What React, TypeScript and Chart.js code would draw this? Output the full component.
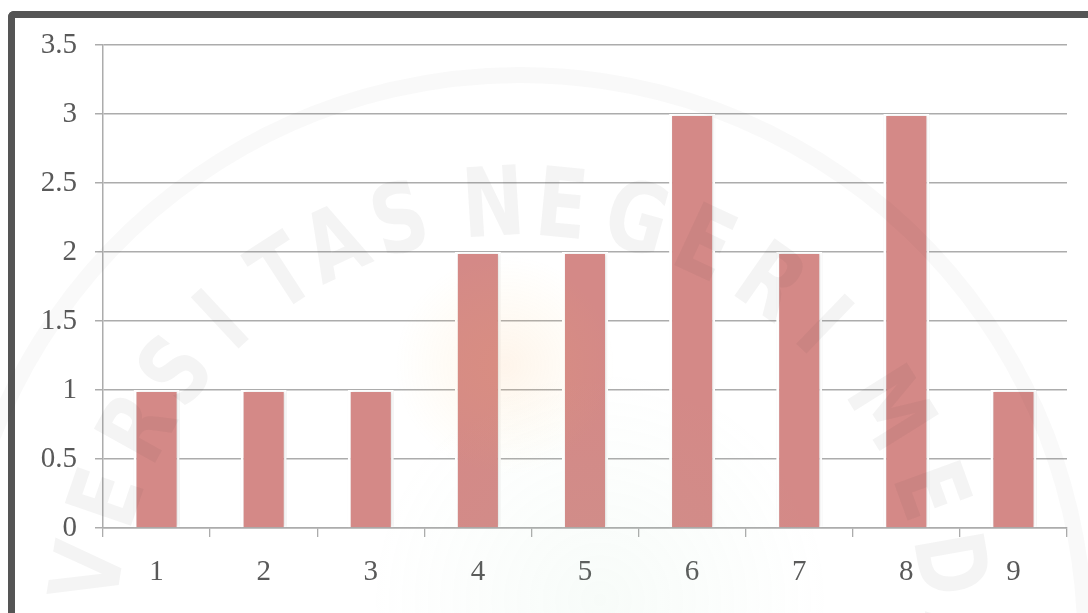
import React, { useEffect, useRef } from "react";
import { Chart, registerables } from "chart.js";

Chart.register(...registerables);

// Chart data
const categories = ["1", "2", "3", "4", "5", "6", "7", "8", "9"];
const values = [1, 1, 1, 2, 2, 3, 2, 3, 1];
const yTickValues = [0, 0.5, 1, 1.5, 2, 2.5, 3, 3.5];
const yTickLabels = ["0", "0.5", "1", "1.5", "2", "2.5", "3", "3.5"];

const BAR_COLOR = "rgb(212,137,135)";
const GRID_COLOR = "#acacac";
const TEXT_COLOR = "#595959";
const FONT_FAMILY = "'Liberation Serif', 'Times New Roman', serif";

// Faint seal watermark printed across the page
const sealLetters: [string, number][] = [
  ["U", -107], ["N", -97], ["I", -89], ["V", -81], ["E", -71], ["R", -61],
  ["S", -52], ["I", -43], ["T", -33], ["A", -25], ["S", -16],
  ["N", -3.5], ["E", 5.5], ["G", 15.5], ["E", 25], ["R", 35], ["I", 44],
  ["M", 58], ["E", 70], ["D", 80], ["A", 90], ["N", 100],
];

const sealPlugin = {
  id: "seal",
  beforeDatasetsDraw(chart: any) {
    const ctx = chart.ctx;
    ctx.save();
    ctx.shadowColor = "rgba(0,0,0,0.16)";
    ctx.shadowBlur = 3;
    ctx.shadowOffsetX = 1;
  },
  afterDatasetsDraw(chart: any) {
    const ctx = chart.ctx;
    ctx.restore();
    const cx = 520;
    const cy = 640;
    const r = 430;
    ctx.save();
    // soft coloured core of the seal
    let g = ctx.createRadialGradient(505, 365, 0, 505, 365, 110);
    g.addColorStop(0, "rgba(250,170,90,0.12)");
    g.addColorStop(1, "rgba(250,200,90,0)");
    ctx.fillStyle = g;
    ctx.fillRect(380, 240, 250, 250);
    g = ctx.createRadialGradient(600, 600, 0, 600, 600, 230);
    g.addColorStop(0, "rgba(150,210,170,0.07)");
    g.addColorStop(1, "rgba(150,210,170,0)");
    ctx.fillStyle = g;
    ctx.fillRect(370, 370, 460, 243);
    // outer ring
    ctx.strokeStyle = "rgba(60,60,60,0.03)";
    ctx.lineWidth = 16;
    ctx.beginPath();
    ctx.arc(cx, cy, 565, -Math.PI / 2 - 1.8, -Math.PI / 2 + 1.8);
    ctx.stroke();
    // arched lettering
    ctx.font = "bold 96px 'DejaVu Sans', sans-serif";
    ctx.fillStyle = "rgba(60,60,60,0.055)";
    ctx.textAlign = "center";
    ctx.textBaseline = "middle";
    for (const [ch, deg] of sealLetters) {
      const a = (deg * Math.PI) / 180;
      ctx.save();
      ctx.translate(cx + r * Math.sin(a), cy - r * Math.cos(a));
      ctx.rotate(a);
      ctx.scale(0.78, 1);
      ctx.fillText(ch, 0, 0);
      ctx.restore();
    }
    ctx.restore();
  },
};

export default function App() {
  const canvasRef = useRef<HTMLCanvasElement | null>(null);

  useEffect(() => {
    const canvas = canvasRef.current;
    if (!canvas) return;
    const chart = new Chart(canvas, {
      type: "bar",
      data: {
        labels: categories,
        datasets: [
          {
            data: values,
            backgroundColor: BAR_COLOR,
            borderColor: "#ffffff",
            borderWidth: { left: 3, right: 3, top: 2, bottom: 0 },
            borderSkipped: "bottom",
            categoryPercentage: 1,
            barPercentage: 0.43,
          },
        ],
      },
      options: {
        animation: false,
        responsive: false,
        events: [],
        layout: { padding: { top: 45, right: 21, left: 0, bottom: 0 } },
        plugins: {
          legend: { display: false },
          tooltip: { enabled: false },
          title: { display: false },
        },
        scales: {
          x: {
            grid: {
              drawOnChartArea: false,
              drawTicks: true,
              tickLength: 9,
              color: GRID_COLOR,
              lineWidth: 1.3,
            },
            border: { color: GRID_COLOR, width: 1.5 },
            ticks: {
              color: TEXT_COLOR,
              font: { family: FONT_FAMILY, size: 29 },
              padding: 18,
              maxRotation: 0,
            },
            afterFit(scale: any) {
              scale.height = 85;
            },
          },
          y: {
            min: 0,
            max: 3.5,
            grid: {
              color: GRID_COLOR,
              lineWidth: 1.5,
              tickLength: 8,
            },
            border: { color: GRID_COLOR, width: 1.5 },
            ticks: {
              color: TEXT_COLOR,
              font: { family: FONT_FAMILY, size: 29 },
              padding: 18,
              callback(value: any) {
                const i = yTickValues.indexOf(Number(value));
                return i >= 0 ? yTickLabels[i] : "";
              },
            },
            afterBuildTicks(scale: any) {
              scale.ticks = yTickValues.map((v) => ({ value: v }));
            },
            afterFit(scale: any) {
              scale.width = 103;
            },
          },
        },
      },
      plugins: [sealPlugin],
    });
    return () => chart.destroy();
  }, []);

  return (
    <div>
      <div
        style={{
          position: "fixed",
          left: 8,
          top: 11,
          width: 1080,
          height: 602,
          boxSizing: "border-box",
          borderTop: "7px solid #555555",
          borderLeft: "7px solid #555555",
          borderTopLeftRadius: 6,
          background: "#ffffff",
        }}
      />
      <canvas
        ref={canvasRef}
        width={1088}
        height={613}
        style={{ position: "fixed", left: 0, top: 0, width: 1088, height: 613 }}
      />
    </div>
  );
}
